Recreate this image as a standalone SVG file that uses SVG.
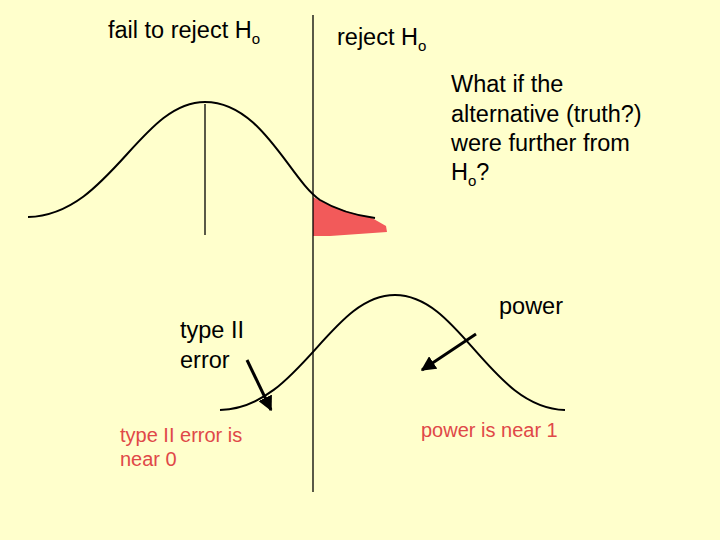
<svg xmlns="http://www.w3.org/2000/svg" width="720" height="540" viewBox="0 0 720 540">
<style>
text{font-family:"Liberation Sans",Arial,sans-serif;font-size:23.5px;fill:#000}
.s{font-size:15px}
.r{font-size:20px;fill:#e04848}
.c{fill:none;stroke:#000;stroke-width:2}
.l{stroke:#000;stroke-width:1.3}
</style>
<defs><marker id="a" viewBox="0 0 10 10" refX="9" refY="5" markerWidth="5" markerHeight="5" orient="auto"><path d="M0,0L10,5L0,10z" fill="#000"/></marker></defs>
<rect width="720" height="540" fill="#ffffcc"/>
<g id="redarea"><path d="M313,197 C330,207 355,214 372,218 L386,226 L387,232 L330,236 L313,236 Z" fill="#f25a5a"/></g>
<g id="curves">
<path class="c" d="M28,217 C110,215 140,102 205,102 C262,102 290,180 320,200 C340,212 360,216 375,218"/>
<path class="c" d="M220,410 C300,408 330,295 395,295 C460,295 490,408 565,410"/>
</g>
<g id="connectors">
<line class="l" x1="313" y1="15" x2="313" y2="492"/>
<line class="l" x1="205" y1="104" x2="205" y2="235"/>
<line x1="247" y1="360" x2="271" y2="410" stroke="#000" stroke-width="3" marker-end="url(#a)"/>
<line x1="476" y1="334" x2="422" y2="370" stroke="#000" stroke-width="3" marker-end="url(#a)"/>
</g>
<g id="labels">
<text x="108" y="38">fail to reject H<tspan class="s" dy="6">o</tspan></text>
<text x="337" y="45">reject H<tspan class="s" dy="6">o</tspan></text>
<text x="451" y="92">What if the</text>
<text x="451" y="122">alternative (truth?)</text>
<text x="451" y="151">were further from</text>
<text x="451" y="180">H<tspan class="s" dy="6">o</tspan><tspan dy="-6">?</tspan></text>
<text x="180" y="338">type II</text>
<text x="180" y="368">error</text>
<text x="499" y="314">power</text>
<text class="r" x="120" y="442">type II error is</text>
<text class="r" x="120" y="466">near 0</text>
<text class="r" x="421" y="437">power is near 1</text>
</g>
</svg>
